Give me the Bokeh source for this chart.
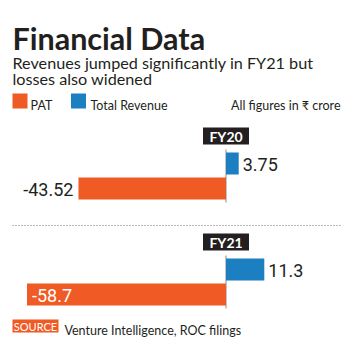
from bokeh.plotting import figure
from bokeh.models import Range1d
from bokeh.core.properties import value
from bokeh.embed import file_html
from bokeh.resources import INLINE

# ---- data ----
years = ["FY20", "FY21"]
pat = [-43.52, -58.7]
revenue = [3.75, 11.3]
pat_labels = ["-43.52", "-58.7"]
rev_labels = ["3.75", "11.3"]

title = "Financial Data"
subtitle = ["Revenues jumped significantly in FY21 but", "losses also widened"]
legend_names = ["PAT", "Total Revenue"]
unit_note = "All figures in \u20b9 crore"
source_tag = "SOURCE"
source_text = "Venture Intelligence, ROC filings"

# ---- layout ----
W, H = 350, 346
ZERO_PX = 225.5
PX_PER_UNIT = 3.39
ORANGE = "#F05A24"
BLUE = "#1C7FC1"
DARK = "#231F20"
FONT = "Lato"
NUM_FONT = "Roboto"


def px(xp):
    return (xp - ZERO_PX) / PX_PER_UNIT


p = figure(width=W, height=H,
           x_range=Range1d(px(0), px(W)), y_range=Range1d(H, 0),
           output_backend="svg", toolbar_location=None,
           x_axis_location=None, y_axis_location=None,
           min_border=0, min_border_left=0, min_border_right=0,
           min_border_top=0, min_border_bottom=0)
p.grid.visible = False
p.outline_line_color = None
p.background_fill_color = "white"
p.border_fill_color = "white"

# title & subtitle
p.text(x=[px(12)], y=[37], text=[title], text_font=value(FONT),
       text_font_size="30.5px", text_font_style="bold", text_color=DARK,
       text_baseline="alphabetic")
p.text(x=[px(12), px(12)], y=[62, 78], text=subtitle, text_font=value(FONT),
       text_font_size="16.2px", text_color=DARK, text_baseline="alphabetic")

# legend
p.rect(x=[px(19.5), px(78)], y=[100.5, 100.5], width=15, height=15,
       width_units="screen", height_units="screen",
       fill_color=[ORANGE, BLUE], line_color=None)
p.text(x=[px(30), px(90)], y=[105, 105], text=legend_names, text_font=value(FONT),
       text_font_size="12.5px", text_color=DARK, text_baseline="alphabetic")
p.text(x=[px(340)], y=[105], text=[unit_note], text_font=value(FONT),
       text_font_size="12.5px", text_color=DARK, text_baseline="alphabetic",
       text_align="right")

# groups
bases = [127, 233]
for i, yr in enumerate(years):
    b = bases[i]
    # year tag
    p.rect(x=[0], y=[b + 8.5], width=46, height=17,
           width_units="screen", height_units="screen",
           fill_color=DARK, line_color=None)
    p.text(x=[0], y=[b + 9], text=[yr], text_font=value(FONT),
           text_font_size="14px", text_font_style="bold", text_color="white",
           text_align="center", text_baseline="middle")
    # zero line
    p.segment(x0=[0], y0=[b + 22], x1=[0], y1=[b + 75], line_color="#8a8a8a",
              line_width=1)
    # bars
    p.hbar(y=[b + 36], left=[0], right=[revenue[i]], height=22,
           fill_color=BLUE, line_color=None)
    p.hbar(y=[b + 61], left=[0], right=[pat[i]], height=22,
           fill_color=ORANGE, line_color=None)
    # value labels
    p.text(x=[revenue[i]], y=[b + 37], text=[rev_labels[i]], x_offset=4,
           text_font=value(NUM_FONT), text_font_size="18px", text_color=DARK,
           text_baseline="middle")
    inside = abs(pat[i]) * PX_PER_UNIT > 170
    p.text(x=[pat[i]], y=[b + 62], text=[pat_labels[i]],
           x_offset=5 if inside else -5,
           text_align="left" if inside else "right",
           text_font=value(NUM_FONT), text_font_size="18px",
           text_color="white" if inside else DARK,
           text_baseline="middle")

# dotted separator
p.segment(x0=[px(12)], y0=[225], x1=[px(342)], y1=[225], line_color="#777777",
          line_width=1, line_dash="1 2")

# source
p.rect(x=[px(35)], y=[325.5], width=46, height=13,
       width_units="screen", height_units="screen",
       fill_color=ORANGE, line_color=None)
p.text(x=[px(35)], y=[326], text=[source_tag], text_font=value(FONT),
       text_font_size="11px", text_color="white", text_align="center",
       text_baseline="middle")
p.text(x=[px(64)], y=[330], text=[source_text], text_font=value(FONT),
       text_font_size="12.5px", text_color=DARK, text_baseline="alphabetic")

open("out.html", "w").write(file_html(p, INLINE))
